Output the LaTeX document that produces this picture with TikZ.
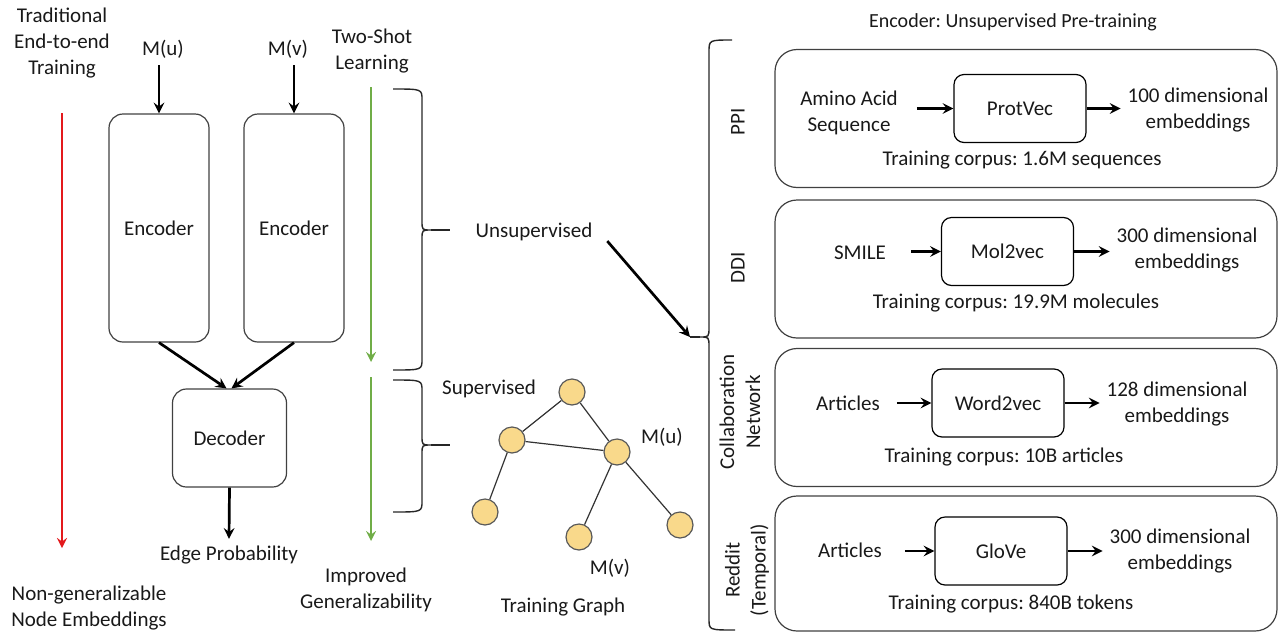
\documentclass[tikz,border=0pt]{standalone}
\usepackage{fontspec}
\setmainfont{Carlito}
\usepackage{tikz}
\usetikzlibrary{positioning}
\definecolor{nodeyellow}{HTML}{F9D98B}
\definecolor{shotgreen}{HTML}{70AD47}
\definecolor{tradred}{HTML}{E3191C}
\frenchspacing
\tikzset{
    lbl/.style = {font=\fontsize{10.5}{13}\selectfont, align=center, text=black!90},
    encbox/.style = {rectangle, rounded corners=7pt, draw=black!75, line width=0.6pt, minimum width=50pt, minimum height=114pt, lbl},
    decbox/.style = {rectangle, rounded corners=7pt, draw=black!75, line width=0.6pt, minimum width=57pt, minimum height=49pt, lbl},
    panel/.style = {rectangle, rounded corners=11pt, draw=black!75, line width=0.6pt, minimum width=251pt, minimum height=69pt},
    model/.style = {rectangle, rounded corners=5pt, draw=black, line width=0.6pt, minimum width=66pt, minimum height=34pt, lbl},
    gnode/.style = {circle, draw=black!65, line width=0.6pt, fill=nodeyellow, minimum size=13pt, inner sep=0pt},
    gedge/.style = {draw=black!80, line width=0.6pt},
    arrow/.style = {line width=1.35pt, ->, >=stealth},
    trend/.style = {line width=1.2pt, ->, >=stealth},
    curly/.style = {draw=black!85, line width=0.7pt}
}
\begin{document}
\begin{tikzpicture}[x=0.5pt, y=-0.5pt]
\useasboundingbox (0,0) rectangle (1278,632);

% left: encoder / decoder
\node (trad) [lbl] at (62,43) {Traditional\\End-to-end\\Training};
\node (nongen) [lbl] at (89,608) {Non-generalizable\\Node Embeddings};
\node (mu) [lbl] at (163,49) {M(u)};
\node (mv) [lbl] at (288,49) {M(v)};
\node (enc1) [encbox] at (159,228) {Encoder};
\node (enc2) [encbox] at (294,228) {Encoder};
\node (dec) [decbox] at (229.5,438) {Decoder};
\node (edge) [lbl] at (229,555) {Edge Probability};
\node (twoshot) [lbl] at (372,51) {Two-Shot\\Learning};
\node (improved) [lbl] at (366,590) {Improved\\Generalizability};
\node (unsup) [lbl] at (534,232) {Unsupervised};
\node (sup) [lbl] at (489,389) {Supervised};

\coordinate (redtop) at (62,113);
\coordinate (redend) at (62,548);
\coordinate (gtop) at (371,87);
\coordinate (gmid) at (371,362);
\coordinate (gtop2) at (371,377);
\coordinate (gend) at (371,541);
\coordinate (bigtip) at (690,337);

\draw [trend, tradred] (redtop) -- (redend);
\draw [trend, shotgreen] (gtop) -- (gmid);
\draw [trend, shotgreen] (gtop2) -- (gend);
\draw [arrow] (enc1.north |- mu.south) -- (enc1.north);
\draw [arrow] (enc2.north |- mv.south) -- (enc2.north);
\draw [arrow] (enc1.south) -- ([xshift=-1.5pt]dec.north);
\draw [arrow] (enc2.south) -- ([xshift=1pt]dec.north);
\draw [arrow] (dec.south) -- (edge.north);

% braces
\draw [curly] (393,89) .. controls (422,89) .. (422,100) -- (422,221) .. controls (422,230) .. (431,230) .. controls (422,230) .. (422,239) -- (422,359) .. controls (422,370) .. (393,370);
\draw [curly] (431,230) -- (450,230);
\draw [curly] (393,380) .. controls (422,380) .. (422,391) -- (422,436) .. controls (422,445) .. (431,445) .. controls (422,445) .. (422,454) -- (422,501) .. controls (422,512) .. (393,512);
\draw [curly] (431,445) -- (450,445);
\draw [curly] (732,40) .. controls (709,40) .. (709,52) -- (709,327) .. controls (709,337) .. (700,337) .. controls (709,337) .. (709,347) -- (709,619) .. controls (709,630) .. (735,630);
\draw [curly] (700,337) -- (bigtip);
\draw [arrow, shorten <=6pt] (unsup.east) -- (bigtip);

% training graph
\node (g1) [gnode] at (572,392) {};
\node (g2) [gnode] at (512,440) {};
\node (g3) [gnode] at (617,452) {};
\node (g4) [gnode] at (485,512) {};
\node (g5) [gnode] at (579,537) {};
\node (g6) [gnode] at (680,525) {};
\draw [gedge] (g1) -- (g2);
\draw [gedge] (g1) -- (g3);
\draw [gedge] (g2) -- (g3);
\draw [gedge] (g2) -- (g4);
\draw [gedge] (g3) -- (g5);
\draw [gedge] (g3) -- (g6);
\node (gmu) [lbl] at (662,437) {M(u)};
\node (gmv) [lbl] at (610,568) {M(v)};
\node (tgraph) [lbl] at (563,607) {Training Graph};

% right: pre-training panels
\node (title) [lbl, font=\fontsize{10}{12}\selectfont] at (1013,22) {Encoder: Unsupervised Pre-training};
\node (ppi) [panel] at (1026,118.5) {};
\node (ddi) [panel] at (1026,269) {};
\node (collab) [panel] at (1026,417.5) {};
\node (reddit) [panel, minimum height=67.5pt] at (1026,563.5) {};

\node (ppilbl) [lbl, rotate=90] at (738,122) {PPI};
\node (ddilbl) [lbl, rotate=90] at (738,268) {DDI};
\node (collablbl) [lbl, rotate=90] at (740,412) {Collaboration\\Network};
\node (redditlbl) [lbl, rotate=90] at (747,570) {Reddit\\(Temporal)};

\node (protvec) [model] at (1020,108.5) {ProtVec};
\node (mol2vec) [model] at (1007.5,251.5) {Mol2vec};
\node (word2vec) [model] at (998,403) {Word2vec};
\node (glove) [model] at (1001,551) {GloVe};

\node (amino) [lbl] at (849,113) {Amino Acid\\Sequence};
\node (smile) [lbl] at (860,253) {SMILE};
\node (art1) [lbl] at (848,403) {Articles};
\node (art2) [lbl] at (850,550) {Articles};

\node (out1) [lbl] at (1198,110) {100 dimensional\\embeddings};
\node (out2) [lbl] at (1187,250) {300 dimensional\\embeddings};
\node (out3) [lbl] at (1177,404) {128 dimensional\\embeddings};
\node (out4) [lbl] at (1180,551) {300 dimensional\\embeddings};

\node (corp1) [lbl] at (1022,160) {Training corpus: 1.6M sequences};
\node (corp2) [lbl] at (1016,303) {Training corpus: 19.9M molecules};
\node (corp3) [lbl] at (1004,457) {Training corpus: 10B articles};
\node (corp4) [lbl] at (1011,604) {Training corpus: 840B tokens};

\draw [arrow, shorten <=6pt] (amino.east |- protvec.west) -- (protvec.west);
\draw [arrow] (protvec.east) -- (out1.west |- protvec.east);
\draw [arrow, shorten <=9pt] (smile.east |- mol2vec.west) -- (mol2vec.west);
\draw [arrow] (mol2vec.east) -- (out2.west |- mol2vec.east);
\draw [arrow, shorten <=5pt] (art1.east |- word2vec.west) -- (word2vec.west);
\draw [arrow] (word2vec.east) -- (out3.west |- word2vec.east);
\draw [arrow, shorten <=8pt] (art2.east |- glove.west) -- (glove.west);
\draw [arrow] (glove.east) -- (out4.west |- glove.east);
\end{tikzpicture}
\end{document}
